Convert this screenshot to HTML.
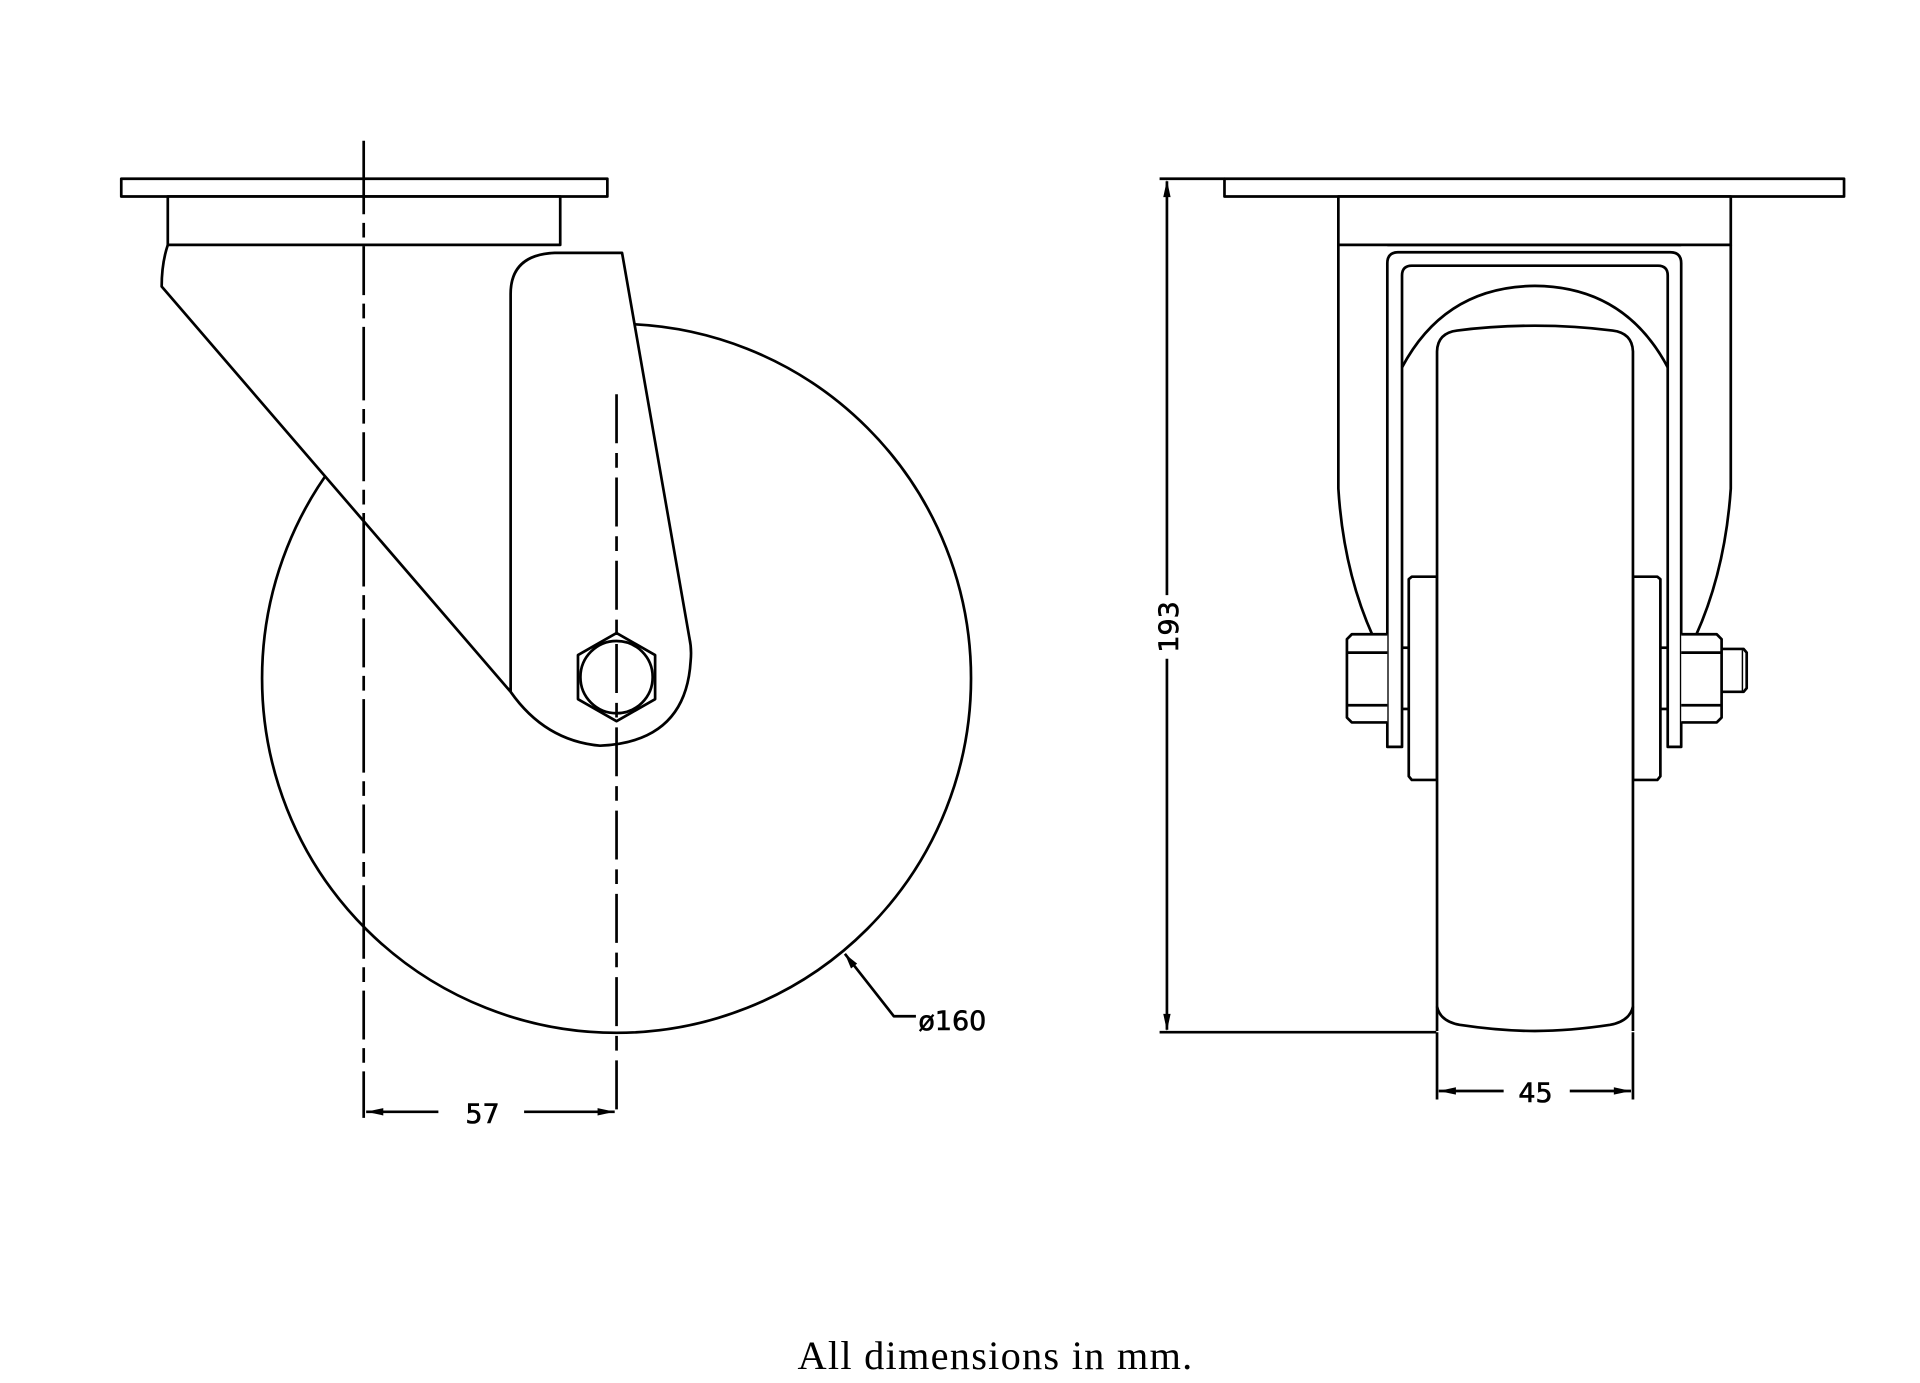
<!DOCTYPE html>
<html><head><meta charset="utf-8"><style>
html,body{margin:0;padding:0;background:#fff;}
svg{display:block;}
</style></head><body>
<svg width="1920" height="1383" viewBox="0 0 1568 1129.5" xmlns="http://www.w3.org/2000/svg">
<rect x="0" y="0" width="1568" height="1129.5" fill="#fff"/>
<g fill="none" stroke="#000" stroke-width="2.2" stroke-linejoin="round">
<!-- LEFT VIEW -->
<circle cx="503.5" cy="554" r="289.5" fill="#fff"/>
<path d="M137,200 Q132,215 132,234 L417,565 Q445,605 490,609 Q560,606 564,540 Q565,530 563,521 L508,206.5 L457,206.5 L457,200 Z" fill="#fff" stroke="none"/>
<rect x="99" y="146" width="397" height="14.5" fill="#fff"/>
<rect x="137" y="160.5" width="320.5" height="39.5" fill="#fff"/>
<path d="M137,200 Q132,215 132,234 L417,565 Q445,605 490,609 Q560,606 564,540 Q565,530 563,521 L508,206.5 L453,206.5 Q417,208 417,240 L417,565"/>
<polygon points="503.5,517 535,535 535,571 503.5,589 472,571 472,535" fill="#fff"/>
<circle cx="503.5" cy="553" r="29.5"/>
<line x1="297" y1="115" x2="297" y2="913" stroke-dasharray="60 7 12 7 40 7 12 7"/>
<line x1="503.5" y1="322" x2="503.5" y2="913" stroke-dasharray="40 8 12 8"/>
<!-- 57 dim -->
<line x1="299" y1="908" x2="358" y2="908"/>
<line x1="428" y1="908" x2="502" y2="908"/>
<!-- ø160 leader -->
<polyline points="690,779 730,830 748,830"/>
<!-- RIGHT VIEW -->
<rect x="1000" y="146" width="506" height="14.5" fill="#fff"/>
<rect x="1093" y="160.5" width="320.5" height="39.5" fill="#fff"/>
<path d="M1093,200 L1093,399 Q1098,480 1132,541"/>
<path d="M1413.5,200 L1413.5,399 Q1408,480 1374,541"/>
<path d="M1133,610 L1133,215 Q1133,206 1142,206 L1364,206 Q1373,206 1373,215 L1373,610 L1362,610 L1362,225 Q1362,217 1354,217 L1153,217 Q1145,217 1145,225 L1145,610 Z" fill="#fff"/>
<line x1="1133" y1="200" x2="1373" y2="200"/>
<path d="M1145,300 Q1180,234 1253.5,233.5 Q1327,234 1362,300"/>
<path d="M1150.5,473 L1153,471 L1173.6,471 L1173.6,637 L1153,637 L1150.5,634 Z" fill="#fff"/>
<path d="M1356,473 L1353.5,471 L1333.6,471 L1333.6,637 L1353.5,637 L1356,634 Z" fill="#fff"/>
<line x1="1145" y1="529" x2="1150.5" y2="529"/><line x1="1145" y1="579" x2="1150.5" y2="579"/>
<line x1="1356" y1="529" x2="1362" y2="529"/><line x1="1356" y1="579" x2="1362" y2="579"/>
<path d="M1173.6,842 L1173.6,287 Q1174,272 1190,270 Q1220,266 1253.5,266 Q1287,266 1317,270 Q1333,272 1333.6,287 L1333.6,842" fill="#fff"/>
<path d="M1173.6,822 Q1176,834 1192,837 Q1225,842 1253.5,842 Q1282,842 1315,837 Q1331,834 1333.6,822"/>
<!-- nuts -->
<path d="M1133,518 L1104,518 L1100,522 L1100,586 L1104,590 L1133,590" fill="#fff"/>
<line x1="1100" y1="533" x2="1133" y2="533"/><line x1="1100" y1="576" x2="1133" y2="576"/>
<path d="M1373,518 L1402,518 L1406,522 L1406,586 L1402,590 L1373,590" fill="#fff"/>
<line x1="1373" y1="533" x2="1406" y2="533"/><line x1="1373" y1="576" x2="1406" y2="576"/>
<path d="M1406,530 L1424,530 L1426.5,533 L1426.5,562 L1424,565 L1406,565"/>
<line x1="1423" y1="531" x2="1423" y2="564" stroke-width="1.2"/>
<!-- 193 dim -->
<line x1="947" y1="146" x2="1000" y2="146"/>
<line x1="947" y1="843" x2="1173" y2="843"/>
<line x1="953" y1="148" x2="953" y2="486"/>
<line x1="953" y1="538" x2="953" y2="841"/>
<!-- 45 dim -->
<line x1="1173.6" y1="843" x2="1173.6" y2="898"/>
<line x1="1333.6" y1="843" x2="1333.6" y2="898"/>
<line x1="1175" y1="891" x2="1228" y2="891"/>
<line x1="1282" y1="891" x2="1332" y2="891"/>
</g>
<g fill="#000">
<polygon points="299,908 313,905 313,911"/>
<polygon points="502,908 488,905 488,911"/>
<polygon points="690,779 700,787 695,791"/>
<polygon points="953,147 950,161 956,161"/>
<polygon points="953,842 950,828 956,828"/>
<polygon points="1175,891 1189,888 1189,894"/>
<polygon points="1332,891 1318,888 1318,894"/>
</g>
<g font-family="'DejaVu Sans','Liberation Sans',sans-serif" font-size="22" fill="#000" stroke="#000" stroke-width="0.5">
<text x="394" y="917" text-anchor="middle">57</text>
<text x="750" y="841">ø160</text>
<text x="1254" y="900" text-anchor="middle">45</text>
<text transform="translate(962,512) rotate(-90)" text-anchor="middle">193</text>
</g>
<text x="813" y="1118" text-anchor="middle" font-family="'Liberation Serif',serif" font-size="33" letter-spacing="1" fill="#000">All dimensions in mm.</text>
</svg>
</body></html>
